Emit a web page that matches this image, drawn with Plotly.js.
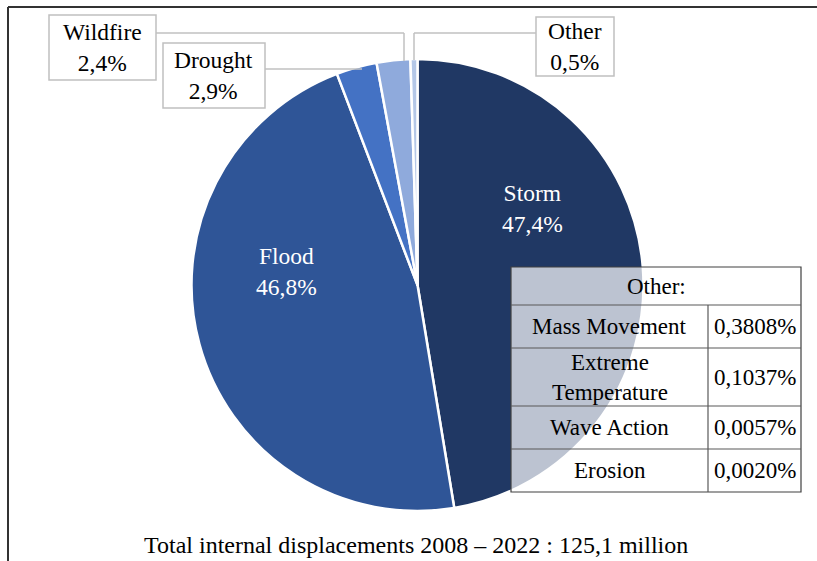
<!DOCTYPE html>
<html><head><meta charset="utf-8">
<script src="https://cdn.plot.ly/plotly-3.0.1.min.js"></script>
<style>html,body{margin:0;padding:0;background:#fff}</style>
</head><body><div id="chart" style="width:817px;height:561px"></div>
<script>
// ---- data ----
const categories = ["Storm", "Flood", "Drought", "Wildfire", "Other"];
const shares = [47.4, 46.8, 2.9, 2.4, 0.5];
const otherTypes = ["Mass Movement", "Extreme<br>Temperature", "Wave Action", "Erosion"];
const otherShares = [0.3808, 0.1037, 0.0057, 0.0020];
const otherTitle = "Other:";
const totalLabel = "Total internal displacements 2008 – 2022 : 125,1 million";

// ---- styling ----
const sliceColors = ["#203864", "#2f5597", "#4472c4", "#8faadc", "#b4c7e7"];
const W = 817, H = 561;
const FONT = "'Liberation Serif', 'Times New Roman', serif";
const fs = 23.5;
const fsT = 23;
const px = x => x / W;
const py = y => 1 - y / H;
const fmt = (v, d) => v.toFixed(d).replace('.', ',') + '%';

// pie geometry (pixels)
const cx = 417.5, cy = 285, r = 226;

const trace = {
  type: 'pie',
  labels: categories,
  values: shares,
  sort: false,
  direction: 'clockwise',
  rotation: 0,
  textinfo: 'none',
  hoverinfo: 'none',
  marker: { colors: sliceColors, line: { color: '#ffffff', width: 2.5 } },
  domain: { x: [px(cx - r), px(cx + r)], y: [py(cy + r), py(cy - r)] }
};

const shapes = [];
const annotations = [];

// outer frame (top and left edges visible)
shapes.push({ type: 'line', xref: 'paper', yref: 'paper', x0: px(8), x1: px(830), y0: py(7), y1: py(7), line: { color: '#333333', width: 2 } });
shapes.push({ type: 'line', xref: 'paper', yref: 'paper', x0: px(8), x1: px(8), y0: py(7), y1: py(575), line: { color: '#333333', width: 2 } });

// inside labels (Storm, Flood)
const insidePos = { "Storm": [532, 208], "Flood": [286, 271] };
categories.forEach((c, i) => {
  if (insidePos[c]) {
    annotations.push({ xref: 'paper', yref: 'paper', x: px(insidePos[c][0]), y: py(insidePos[c][1]),
      text: c + '<br>' + fmt(shares[i], 1), showarrow: false, xanchor: 'center', yanchor: 'middle',
      font: { family: FONT, size: fs, color: '#ffffff' } });
  }
});

// outside labelled boxes with leader lines
const boxes = {
  "Wildfire": { box: [49, 15, 156, 80], path: [[156, 33], [404, 33], [404, 61]] },
  "Drought": { box: [163, 43, 265, 108], path: [[265, 69], [362, 69]] },
  "Other": { box: [536, 17, 614, 76], path: [[536, 33], [414, 33], [414, 60]] }
};
const grey = '#c0c0c0';
categories.forEach((c, i) => {
  const b = boxes[c];
  if (!b) return;
  for (let k = 0; k < b.path.length - 1; k++) {
    shapes.push({ type: 'line', xref: 'paper', yref: 'paper',
      x0: px(b.path[k][0]), y0: py(b.path[k][1]), x1: px(b.path[k + 1][0]), y1: py(b.path[k + 1][1]),
      line: { color: grey, width: 1.5 } });
  }
  shapes.push({ type: 'rect', xref: 'paper', yref: 'paper',
    x0: px(b.box[0]), y0: py(b.box[3]), x1: px(b.box[2]), y1: py(b.box[1]),
    fillcolor: '#ffffff', line: { color: grey, width: 1.5 } });
  annotations.push({ xref: 'paper', yref: 'paper', x: px((b.box[0] + b.box[2]) / 2), y: py((b.box[1] + b.box[3]) / 2),
    text: c + '<br>' + fmt(shares[i], 1), showarrow: false, xanchor: 'center', yanchor: 'middle',
    font: { family: FONT, size: fs, color: '#000000' } });
});

// table of "Other" breakdown
const tL = 511, tR = 801, tC = 708, tT = 267;
const rowEdges = [305, 348, 406, 449, 492];
shapes.push({ type: 'rect', xref: 'paper', yref: 'paper', x0: px(tL), x1: px(tR), y0: py(rowEdges[4]), y1: py(tT),
  fillcolor: 'rgba(255,255,255,0.7)', line: { color: '#404040', width: 1.2 } });
rowEdges.slice(0, 4).forEach(y => {
  shapes.push({ type: 'line', xref: 'paper', yref: 'paper', x0: px(tL), x1: px(tR), y0: py(y), y1: py(y), line: { color: '#595959', width: 1.2 } });
});
shapes.push({ type: 'line', xref: 'paper', yref: 'paper', x0: px(tC), x1: px(tC), y0: py(rowEdges[0]), y1: py(rowEdges[4]), line: { color: '#595959', width: 1.2 } });
annotations.push({ xref: 'paper', yref: 'paper', x: px((tL + tR) / 2), y: py((tT + rowEdges[0]) / 2),
  text: otherTitle, showarrow: false, xanchor: 'center', yanchor: 'middle', font: { family: FONT, size: fsT, color: '#000' } });
otherTypes.forEach((t, i) => {
  const yc = (rowEdges[i] + rowEdges[i + 1]) / 2;
  annotations.push({ xref: 'paper', yref: 'paper', x: px((tL + tC) / 2), y: py(yc), text: t, showarrow: false,
    xanchor: 'center', yanchor: 'middle', font: { family: FONT, size: fsT, color: '#000' } });
  annotations.push({ xref: 'paper', yref: 'paper', x: px((tC + tR) / 2), y: py(yc), text: fmt(otherShares[i], 4), showarrow: false,
    xanchor: 'center', yanchor: 'middle', font: { family: FONT, size: fsT, color: '#000' } });
});

// bottom caption
annotations.push({ xref: 'paper', yref: 'paper', x: px(416), y: py(545), text: totalLabel, showarrow: false,
  xanchor: 'center', yanchor: 'middle', font: { family: FONT, size: 24, color: '#000' } });

const layout = {
  width: W, height: H,
  margin: { l: 0, r: 0, t: 0, b: 0 },
  paper_bgcolor: '#ffffff', plot_bgcolor: '#ffffff',
  showlegend: false,
  shapes: shapes,
  annotations: annotations
};
Plotly.newPlot('chart', [trace], layout, { staticPlot: true, displayModeBar: false });
</script></body></html>
